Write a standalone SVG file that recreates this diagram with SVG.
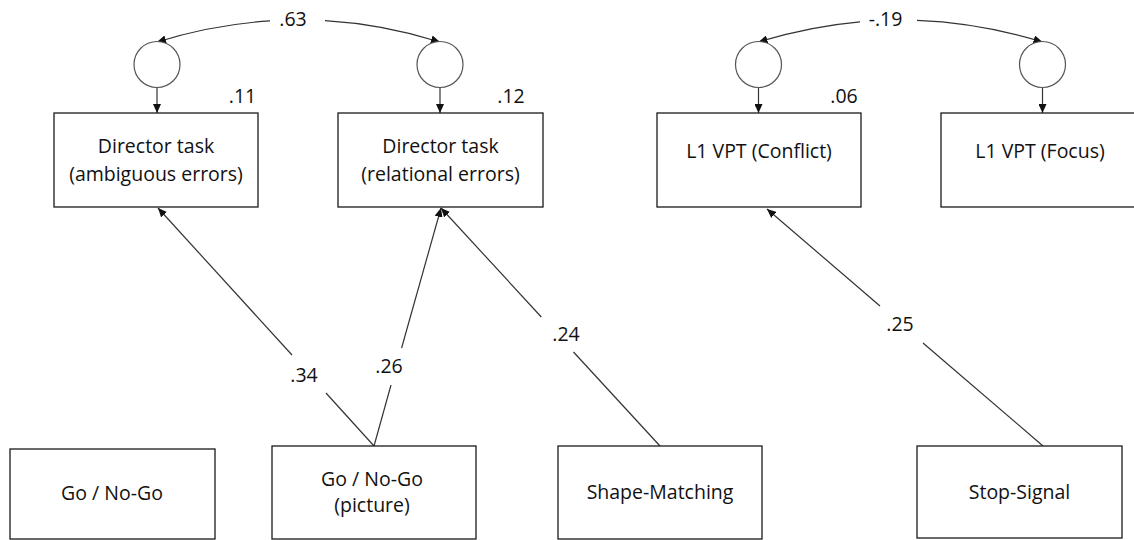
<svg xmlns="http://www.w3.org/2000/svg" width="1134" height="540" viewBox="0 0 1134 540">
  <style>
    .box { fill: #ffffff; stroke: #1a1a1a; stroke-width: 1.3; }
    .err { fill: #ffffff; stroke: #555555; stroke-width: 1.2; }
    .lbl { font-family: "Open Sans", "Liberation Sans", sans-serif; font-size: 19.5px; fill: #111111; text-anchor: middle; }
    .path { fill: none; stroke: #333333; stroke-width: 1.2; }
  </style>
  <defs>
    <marker id="arrow" markerUnits="userSpaceOnUse" markerWidth="10" markerHeight="8" refX="9" refY="4" orient="auto">
      <path d="M0,0 L9,4 L0,8 Z" fill="#111111"/>
    </marker>
  </defs>

  <rect width="1134" height="540" fill="#ffffff"/>

  <!-- connectors -->
  <g id="connectors">
    <!-- error terms to observed measures -->
    <line class="path" x1="157" y1="87.5" x2="157" y2="113" marker-end="url(#arrow)"/>
    <line class="path" x1="440" y1="87.5" x2="440" y2="113" marker-end="url(#arrow)"/>
    <line class="path" x1="758.5" y1="87.5" x2="758.5" y2="113" marker-end="url(#arrow)"/>
    <line class="path" x1="1042.5" y1="87.5" x2="1042.5" y2="113" marker-end="url(#arrow)"/>

    <!-- covariance .63 -->
    <path class="path" d="M270,20.9 Q213.5,24.4 157,42" marker-end="url(#arrow)"/>
    <path class="path" d="M325,20.7 Q382.6,24.1 440,42" marker-end="url(#arrow)"/>
    <!-- covariance -.19 -->
    <path class="path" d="M860,21.8 Q809.2,26.3 758.5,42" marker-end="url(#arrow)"/>
    <path class="path" d="M917,20.3 Q979.7,22.6 1042.5,42" marker-end="url(#arrow)"/>

    <!-- Go / No-Go (picture) -> Director task (ambiguous errors), .34 -->
    <line class="path" x1="374" y1="446" x2="326" y2="393"/>
    <line class="path" x1="292" y1="355" x2="158" y2="208" marker-end="url(#arrow)"/>
    <!-- Go / No-Go (picture) -> Director task (relational errors), .26 -->
    <line class="path" x1="374" y1="446" x2="391" y2="385"/>
    <line class="path" x1="401.6" y1="348" x2="441" y2="208" marker-end="url(#arrow)"/>
    <!-- Shape-Matching -> Director task (relational errors), .24 -->
    <line class="path" x1="660" y1="446" x2="573.5" y2="352"/>
    <line class="path" x1="541.3" y1="317" x2="441" y2="208" marker-end="url(#arrow)"/>
    <!-- Stop-Signal -> L1 VPT (Conflict), .25 -->
    <line class="path" x1="1043" y1="446" x2="923" y2="343"/>
    <line class="path" x1="880" y1="306" x2="767" y2="209" marker-end="url(#arrow)"/>
  </g>

  <!-- coefficient labels -->
  <g id="coefficients">
    <text class="lbl" x="293" y="26">.63</text>
    <text class="lbl" x="885.5" y="26">-.19</text>
    <text class="lbl" x="242.5" y="103">.11</text>
    <text class="lbl" x="511" y="103">.12</text>
    <text class="lbl" x="844" y="103">.06</text>
    <text class="lbl" x="304" y="382">.34</text>
    <text class="lbl" x="389" y="373">.26</text>
    <text class="lbl" x="566" y="341">.24</text>
    <text class="lbl" x="900" y="331">.25</text>
  </g>

  <!-- error terms -->
  <g id="e1"><circle class="err" cx="157" cy="64.5" r="23"/></g>
  <g id="e2"><circle class="err" cx="440" cy="64.5" r="23"/></g>
  <g id="e3"><circle class="err" cx="758.5" cy="64.5" r="23"/></g>
  <g id="e4"><circle class="err" cx="1042.5" cy="64.5" r="23"/></g>

  <!-- outcome measures -->
  <g id="director-ambiguous">
    <rect class="box" x="54" y="113" width="204" height="94"/>
    <text class="lbl" x="156" y="153">Director task</text>
    <text class="lbl" x="156" y="181">(ambiguous errors)</text>
  </g>
  <g id="director-relational">
    <rect class="box" x="338" y="113" width="205" height="94"/>
    <text class="lbl" x="440.5" y="153">Director task</text>
    <text class="lbl" x="440.5" y="181">(relational errors)</text>
  </g>
  <g id="l1vpt-conflict">
    <rect class="box" x="657" y="113" width="204" height="94"/>
    <text class="lbl" x="759" y="158">L1 VPT (Conflict)</text>
  </g>
  <g id="l1vpt-focus">
    <rect class="box" x="941" y="113" width="204" height="94"/>
    <text class="lbl" x="1040" y="158">L1 VPT (Focus)</text>
  </g>

  <!-- predictor measures -->
  <g id="gonogo">
    <rect class="box" x="10" y="449" width="205" height="90"/>
    <text class="lbl" x="112" y="500">Go / No-Go</text>
  </g>
  <g id="gonogo-picture">
    <rect class="box" x="272" y="446" width="204" height="93"/>
    <text class="lbl" x="372" y="486">Go / No-Go</text>
    <text class="lbl" x="372" y="512">(picture)</text>
  </g>
  <g id="shape-matching">
    <rect class="box" x="558" y="446" width="204" height="93"/>
    <text class="lbl" x="660" y="499">Shape-Matching</text>
  </g>
  <g id="stop-signal">
    <rect class="box" x="917" y="446" width="205" height="92"/>
    <text class="lbl" x="1019.5" y="499">Stop-Signal</text>
  </g>
</svg>
